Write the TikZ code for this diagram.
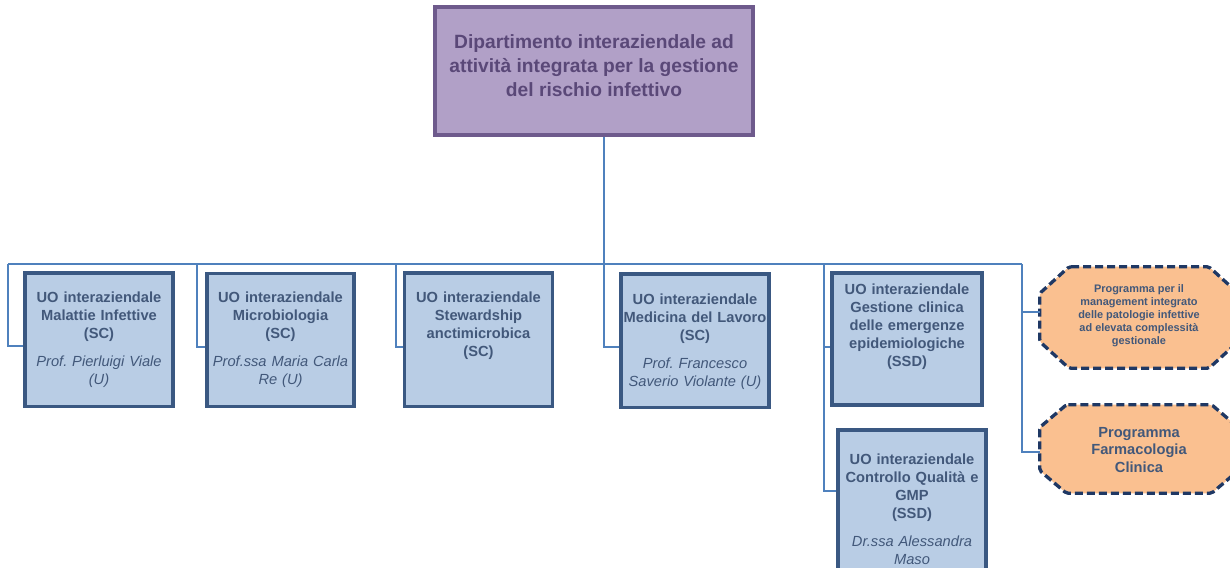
\documentclass[tikz,border=0pt]{standalone}
\usepackage{fontspec}
\setmainfont{Liberation Sans}
\usetikzlibrary{positioning}
\definecolor{viola}{HTML}{B1A0C7}
\definecolor{violabordo}{HTML}{6E5A8C}
\definecolor{violatesto}{HTML}{5A4878}
\definecolor{azzurro}{HTML}{B9CDE5}
\definecolor{bluebordo}{HTML}{3A5882}
\definecolor{bluetesto}{HTML}{42587A}
\definecolor{linea}{HTML}{4F81BD}
\definecolor{arancio}{HTML}{FAC090}
\definecolor{navy}{HTML}{1F3864}
\frenchspacing
\def\lw{2.5pt}
\tikzset{link/.style={linea, line width=1.1pt}}
\tikzset{unit/.style={draw=bluebordo, fill=azzurro, line width=\lw, inner sep=0pt,
    minimum width=111pt, minimum height=100pt}}
\tikzset{utext/.style={bluetesto, font=\fontsize{11}{13.5}\selectfont\bfseries,
    text width=112pt, align=center, anchor=north, inner sep=0pt}}
\tikzset{progarea/.style={inner sep=0pt, minimum width=148.5pt}}
\tikzset{progbox/.style={draw=navy, fill=arancio, line width=\lw,
    dash pattern=on 6pt off 3pt, rounded corners=1.5pt}}
\tikzset{progtext/.style={text=bluetesto, align=center, inner sep=0pt}}
\newcommand{\resp}[1]{\\[7.5pt]{\mdseries\itshape #1}}
% ottagono: nodo, smusso x, smusso y
\newcommand{\ottagono}[3]{%
  \draw[progbox] ([xshift=#2]#1.north west) -- ([xshift=-#2]#1.north east)
    -- ([yshift=-#3]#1.north east) -- ([yshift=#3]#1.south east)
    -- ([xshift=-#2]#1.south east) -- ([xshift=#2]#1.south west)
    -- ([yshift=#3]#1.south west) -- ([yshift=-#3]#1.north west) -- cycle;}

\begin{document}
\begin{tikzpicture}[x=0.75pt, y=-0.75pt]
  \useasboundingbox (0,0) rectangle (1230,567);
  \clip (0,0) rectangle (1230,567);

  % Dipartimento
  \node[draw=violabordo, fill=viola, line width=2.4pt, inner sep=0pt,
    minimum width=238.5pt, minimum height=96pt] (top) at (594,71) {};
  \node[violatesto, font=\fontsize{14.4}{18}\selectfont\bfseries, align=center,
    inner sep=0pt] (ttop) at (594,66) {Dipartimento interaziendale ad\\
    attività integrata per la gestione\\ del rischio infettivo};

  % Unita operative
  \node[unit] (b1) at (99,339.5) {};
  \node[unit, minimum width=110.25pt] (b2) at (280.5,340) {};
  \node[unit] (b3) at (478.5,339.5) {};
  \node[unit] (b4) at (695,340.5) {};
  \node[unit, minimum width=112.5pt, minimum height=99pt] (b5) at (907,339) {};
  \node[unit, minimum height=120pt] (b6) at (912,510) {};

  \node[utext] (t1) at (99,292) {UO interaziendale\\ Malattie Infettive\\ (SC)%
    \resp{Prof. Pierluigi Viale\\ (U)}};
  \node[utext] (t2) at (280.5,292) {UO interaziendale\\ Microbiologia\\ (SC)%
    \resp{Prof.ssa Maria Carla\\ Re (U)}};
  \node[utext] (t3) at (478.5,292) {UO interaziendale\\ Stewardship\\
    anctimicrobica\\ (SC)};
  \node[utext] (t4) at (695,294) {UO interaziendale\\ Medicina del Lavoro\\ (SC)%
    \resp{Prof. Francesco\\ Saverio Violante (U)}};
  \node[utext] (t5) at (907,284) {UO interaziendale\\ Gestione clinica\\
    delle emergenze\\ epidemiologiche\\ (SSD)};
  \node[utext] (t6) at (912,454) {UO interaziendale\\ Controllo Qualità e\\ GMP\\
    (SSD)\resp{Dr.ssa Alessandra\\ Maso}};

  % Programmi
  \node[progarea, minimum height=75.75pt] (p1) at (1139,317.5) {};
  \ottagono{p1}{22pt}{20pt}
  \node[progtext, font=\fontsize{8.2}{9.75}\selectfont\bfseries] (tp1) at (1139,316)
    {Programma per il\\ management integrato\\ delle patologie infettive\\
    ad elevata complessità\\ gestionale};
  \node[progarea, minimum height=66pt] (p2) at (1139,449) {};
  \ottagono{p2}{20pt}{17pt}
  \node[progtext, font=\fontsize{11}{13}\selectfont\bfseries] (tp2) at (1139,450)
    {Programma\\ Farmacologia\\ Clinica};

  % Collegamenti
  \coordinate (busL) at (8,264);
  \coordinate (busR) at (1022,264);
  \coordinate (d2) at (197,264);
  \coordinate (d3) at (396,264);
  \coordinate (d5) at (824,264);
  \draw[link] (busL) -- (busR);
  \draw[link] ([xshift=7.5pt]top.south) |- (b4.west |- 0,347);
  \draw[link] (busL) |- (b1.west |- 0,346);
  \draw[link] (d2) |- (b2.west |- 0,347);
  \draw[link] (d3) |- (b3.west |- 0,347);
  \draw[link] (d5) |- (b5.west |- 0,347);
  \draw[link] (d5) |- (b6.west |- 0,491);
  \draw[link] (busR) |- (p1.west |- 0,312);
  \draw[link] (busR) |- (p2.west |- 0,452);
\end{tikzpicture}
\end{document}
